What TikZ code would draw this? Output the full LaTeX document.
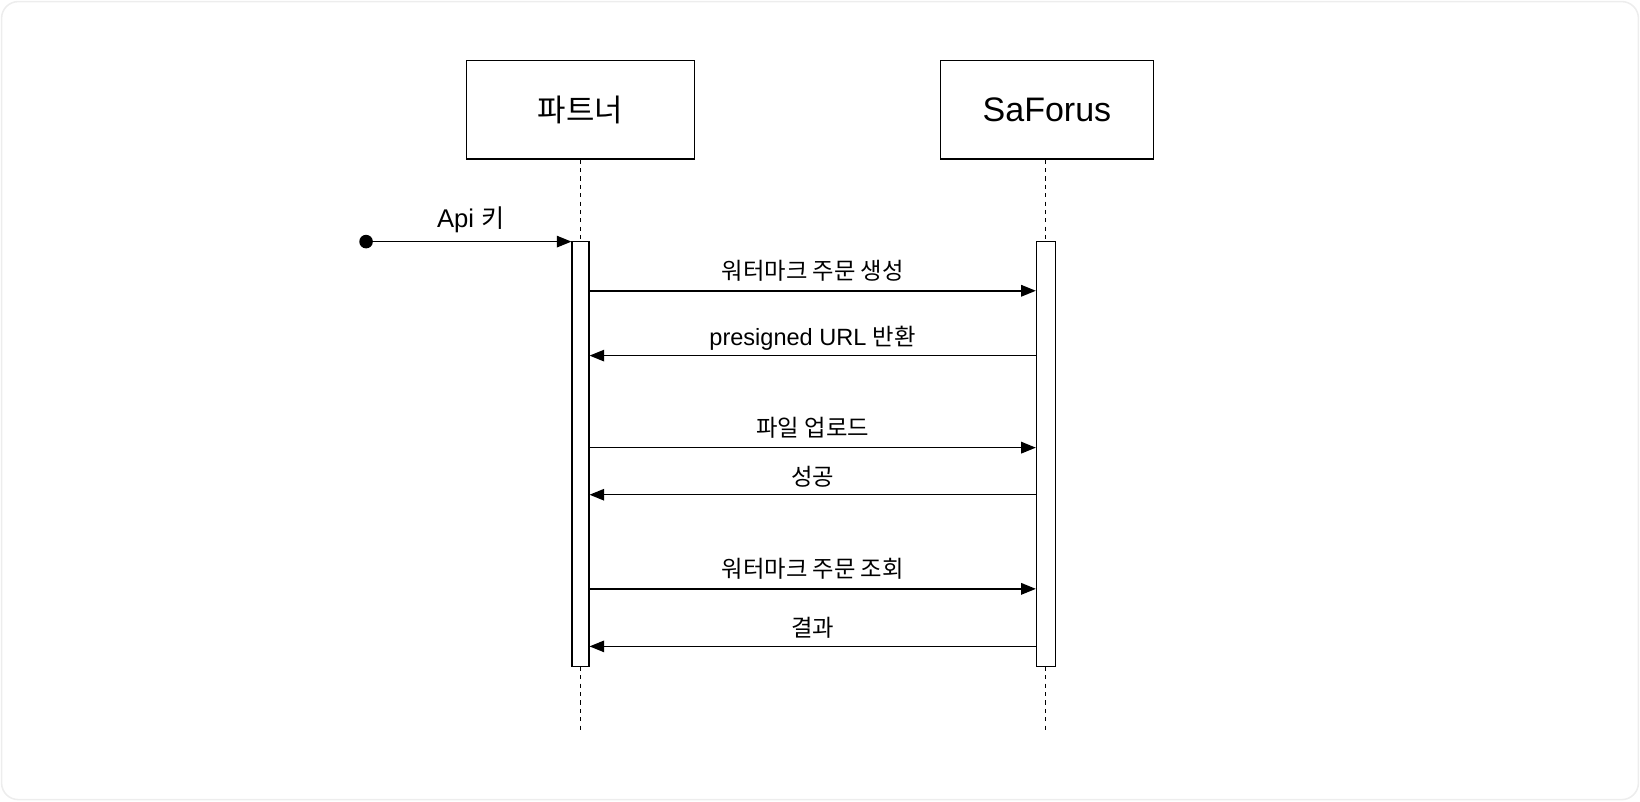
\documentclass[tikz,border=0pt]{standalone}
\usepackage{fontspec}
\setmainfont{Liberation Sans}
\newfontfamily\kr{Noto Sans CJK KR}
\usetikzlibrary{arrows.meta}
\newcommand{\krl}[1]{{\fontsize{22.3}{26}\selectfont\kr #1}}
\begin{document}
\begin{tikzpicture}[x=1pt,y=-1pt,
  box/.style={draw, line width=1.3pt, minimum height=94pt, inner sep=0pt},
  bar/.style={draw, fill=white, line width=1.3pt, minimum height=406pt, inner sep=0pt},
  life/.style={dash pattern=on 4pt off 4pt, line width=1pt},
  msg/.style={line width=1.4pt, -{Triangle[length=14pt,width=11pt]}},
  lbl/.style={font=\fontsize{22.5}{26}\selectfont, inner sep=0pt}]
\useasboundingbox (0,0) rectangle (1568,766);
\draw[draw=black!7, line width=1.5pt, rounded corners=16pt] (1.5,1.5) rectangle (1566.5,764.5);
% participants
\node[box, minimum width=218pt, font=\fontsize{29.5}{35}\selectfont\kr] (boxA) at (555,105) {파트너};
\node[box, minimum width=204pt, font=\fontsize{32.5}{38}\selectfont] (boxB) at (1001,105) {SaForus};
% activation bars
\node[bar, minimum width=16pt] (barA) at (555,434) {};
\node[bar, minimum width=18pt] (barB) at (1000,434) {};
\coordinate (endA) at (555,700);
\coordinate (endB) at (1000,700);
\draw[life] (boxA.south) -- (barA.north);
\draw[life] (barA.south) -- (endA);
\draw[life] ([xshift=-1pt]boxB.south) -- (barB.north);
\draw[life] (barB.south) -- (endB);
% start
\node[circle, fill, inner sep=0pt, minimum size=13pt] (start) at (350,231) {};
\draw[msg] (start.center) -- (start.center -| barA.west);
\node[lbl, font=\fontsize{24.5}{29}\selectfont] (l0) at (450,210) {Api {\fontsize{24}{29}\selectfont\kr 키}};
% messages
\coordinate (m1) at (0,278);
\coordinate (m2) at (0,340);
\coordinate (m3) at (0,428);
\coordinate (m4) at (0,473);
\coordinate (m5) at (0,563);
\coordinate (m6) at (0,618);
\draw[msg] (barA.east |- m1) -- (barB.west |- m1);
\draw[msg] (barB.west |- m2) -- (barA.east |- m2);
\draw[msg] (barA.east |- m3) -- (barB.west |- m3);
\draw[msg] (barB.west |- m4) -- (barA.east |- m4);
\draw[msg] (barA.east |- m5) -- (barB.west |- m5);
\draw[msg] (barB.west |- m6) -- (barA.east |- m6);
\node[lbl] (l1) at (777,259) {\krl{워터마크 주문 생성}};
\node[lbl] (l2) at (777,323) {presigned URL \krl{반환}};
\node[lbl] (l3) at (777,409) {\krl{파일 업로드}};
\node[lbl] (l4) at (777,456) {\krl{성공}};
\node[lbl] (l5) at (777,544) {\krl{워터마크 주문 조회}};
\node[lbl] (l6) at (777,600) {\krl{결과}};
\end{tikzpicture}
\end{document}
